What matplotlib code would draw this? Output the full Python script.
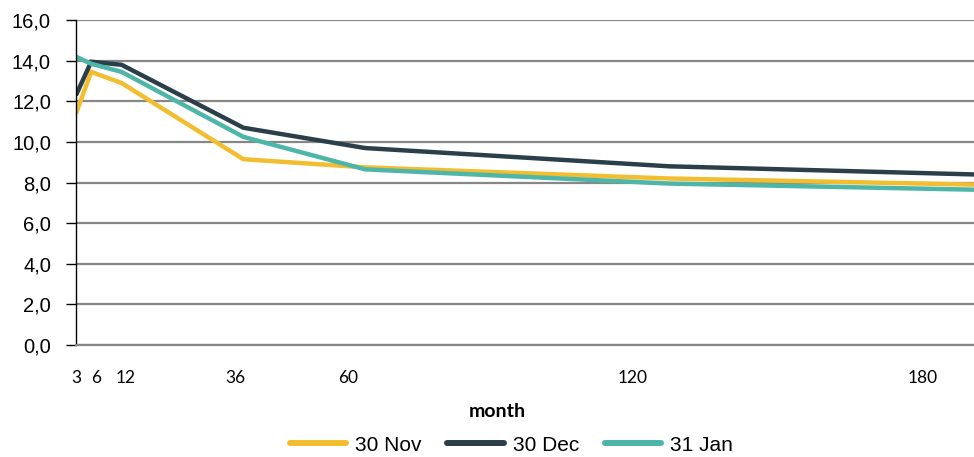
import matplotlib.pyplot as plt
from matplotlib.ticker import FuncFormatter

# data
months = [3, 6, 12, 36, 60, 120, 180]
nov = [11.4, 13.45, 12.9, 9.15, 8.75, 8.2, 7.9]
dec = [12.3, 13.95, 13.8, 10.7, 9.7, 8.8, 8.4]
jan = [14.2, 13.85, 13.45, 10.25, 8.65, 7.95, 7.65]

series_names = ['30 Nov', '30 Dec', '31 Jan']
colors = ['#F2BD2F', '#2B3F4A', '#4DB6A9']

tick_labels = ['3', '6', '12', '36', '60', '120', '180']
# the labels sit a little off the data points in the original chart
tick_pos = [3, 6.9, 12.8, 34.4, 56.6, 112.7, 169.8]

fig = plt.figure(figsize=(9.74, 4.57), dpi=100)
ax = fig.add_axes([0.078, 0.245, 0.922, 0.711])

for vals, name, c in zip([nov, dec, jan], series_names, colors):
    ax.plot(months, vals, color=c, linewidth=3.2, label=name,
            solid_capstyle='butt', solid_joinstyle='miter')

ax.set_xlim(3, 180)
ax.set_ylim(0, 16)
ax.set_yticks(range(0, 17, 2))
ax.yaxis.set_major_formatter(FuncFormatter(lambda v, p: f'{v:.1f}'.replace('.', ',')))
ax.grid(axis='y', color='#878787', linewidth=1.6)
ax.set_axisbelow(True)

ax.set_xticks(tick_pos)
ax.set_xticklabels(tick_labels, fontfamily='Lato', fontsize=12.5)
ax.tick_params(axis='x', length=0, pad=18)
ax.tick_params(axis='y', length=7, width=1, color='black', pad=11, labelsize=14.5)
for lbl in ax.get_yticklabels():
    lbl.set_fontfamily('Liberation Sans')

for s in ['top', 'right']:
    ax.spines[s].set_visible(False)
ax.spines['left'].set_color('black')
ax.spines['left'].set_linewidth(1)
ax.spines['bottom'].set_color('#878787')
ax.spines['bottom'].set_linewidth(1.6)

ax.set_xlabel('month', fontfamily='Lato', fontweight='bold', fontsize=14)
ax.xaxis.set_label_coords(0.469, -0.177)

leg = fig.legend(loc='center', bbox_to_anchor=(0.525, 0.026), ncol=3, frameon=False,
                 prop={'family': 'Liberation Sans', 'size': 15},
                 handlelength=2.7, handletextpad=0.43, columnspacing=1.25)
for h in leg.get_lines():
    h.set_linewidth(4.3)
    h.set_solid_capstyle('round')

fig.savefig('out.png', dpi=100)
